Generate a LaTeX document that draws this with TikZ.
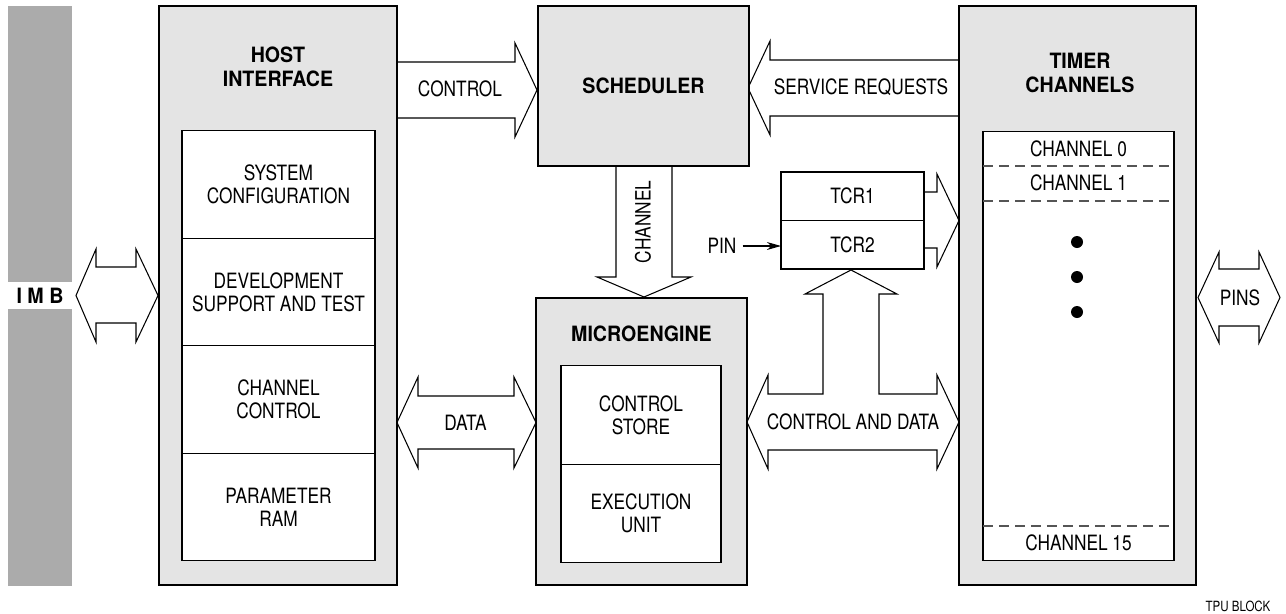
\documentclass[tikz,border=0pt]{standalone}
\usepackage{fontspec}
\setmainfont{TeX Gyre Heros}[FakeStretch=0.82]
\newfontfamily\headfont{TeX Gyre Heros}[FakeStretch=0.93]
\usetikzlibrary{positioning,arrows.meta,calc}

\definecolor{boxgrey}{HTML}{E4E4E4}
\definecolor{imbgrey}{HTML}{ABABAB}
\definecolor{dashgrey}{HTML}{555555}

\tikzset{
  bigbox/.style={draw,line width=1.1pt,fill=boxgrey,outer sep=0pt},
  subbox/.style={draw,line width=0.6pt,fill=white,align=center,inner sep=0pt,outer sep=0pt},
  blockarrow/.style={draw,line width=0.6pt,fill=white,line join=miter},
  head/.style={font=\headfont\bfseries\fontsize{12}{14}\selectfont,align=center},
  chandash/.style={line width=0.6pt,draw=dashgrey,dash pattern=on 5.7pt off 3.4pt}
}

\begin{document}
\begin{tikzpicture}[x=0.02cm,y=-0.02cm,font=\fontsize{12}{13}\selectfont]
\useasboundingbox (0,0) rectangle (1286,613);

% IMB bus
\fill[imbgrey] (8,6) rectangle (72,282);
\fill[imbgrey] (8,309) rectangle (72,586);

% block arrows
\draw[blockarrow] (76,295.5) -- (96,249) -- (96,267) -- (136,267) -- (136,249) -- (158,295.5)
  -- (136,342) -- (136,323) -- (96,323) -- (96,342) -- cycle;
\draw[blockarrow] (397,62) -- (515,62) -- (515,43) -- (537,90) -- (515,137) -- (515,118) -- (397,118);
\draw[blockarrow] (959,60) -- (770,60) -- (770,41) -- (748,88) -- (770,135) -- (770,116) -- (959,116);
\draw[blockarrow] (616,166) -- (616,277) -- (597,277) -- (644,297) -- (691,277) -- (672,277) -- (672,166);
\draw[blockarrow] (397,422.5) -- (418,377) -- (418,396) -- (514,396) -- (514,377) -- (536,422.5)
  -- (514,468) -- (514,449) -- (418,449) -- (418,468) -- cycle;
\draw[blockarrow] (747,422) -- (768,375) -- (768,394) -- (823,394) -- (823,294) -- (805,294)
  -- (851,270) -- (897,294) -- (879,294) -- (879,394) -- (937,394) -- (937,375) -- (959,422)
  -- (937,469) -- (937,450) -- (768,450) -- (768,469) -- cycle;
\draw[blockarrow] (924,192) -- (937,192) -- (937,174) -- (959,220.5) -- (937,267) -- (937,248) -- (924,248);
\draw[blockarrow] (1198,297.5) -- (1219,252) -- (1219,269) -- (1259,269) -- (1259,252) -- (1280,297.5)
  -- (1259,343) -- (1259,326) -- (1219,326) -- (1219,343) -- cycle;

% host interface
\node[bigbox,minimum width=4.76cm,minimum height=11.58cm] (host) at (278,295.5) {};
\node[head] (hosttitle) at (278,67) {HOST\\INTERFACE};
\node[subbox,minimum width=3.86cm,minimum height=2.15cm] (syscfg) at (278.5,184.5) {SYSTEM\\CONFIGURATION};
\node[subbox,minimum width=3.86cm,minimum height=2.15cm,below=0pt of syscfg] (devsup) {DEVELOPMENT\\SUPPORT AND TEST};
\node[subbox,minimum width=3.86cm,minimum height=2.15cm,below=0pt of devsup] (chctl) {CHANNEL\\CONTROL};
\node[subbox,minimum width=3.86cm,minimum height=2.15cm,below=0pt of chctl] (pram) {PARAMETER\\RAM};

% scheduler
\node[bigbox,head,minimum width=4.22cm,minimum height=3.2cm] (sched) at (643.5,86) {SCHEDULER};

% microengine
\node[bigbox,minimum width=4.22cm,minimum height=5.74cm] (micro) at (641.5,441.5) {};
\node[head] (microtitle) at (641.5,334) {MICROENGINE};
\node[subbox,minimum width=3.2cm,minimum height=1.97cm] (cstore) at (641,415) {CONTROL\\STORE};
\node[subbox,minimum width=3.2cm,minimum height=1.97cm,below=0pt of cstore] (exec) {EXECUTION\\UNIT};

% timer channels
\node[bigbox,minimum width=4.74cm,minimum height=11.58cm] (timer) at (1077.5,295.5) {};
\node[head] (timertitle) at (1080,73) {TIMER\\CHANNELS};
\node[subbox,minimum width=3.82cm,minimum height=8.6cm] (chans) at (1078.5,346) {};
\draw[chandash] (chans.west |- 0,166) -- (chans.east |- 0,166);
\draw[chandash] (chans.west |- 0,201) -- (chans.east |- 0,201);
\draw[chandash] (chans.west |- 0,526) -- (chans.east |- 0,526);
\node (ch0) at (1078.5,149) {CHANNEL 0};
\node (ch1) at (1078.5,183) {CHANNEL 1};
\node (ch15) at (1078.5,543) {CHANNEL 15};
\foreach \y in {242,277,312}
  \fill (1077,\y) circle (0.12cm);

% time bases
\node[subbox,minimum width=2.86cm,minimum height=0.97cm] (tcr1) at (852.5,196) {TCR1};
\node[subbox,minimum width=2.86cm,minimum height=0.97cm,below=0pt of tcr1] (tcr2) {TCR2};
\draw[line width=1.1pt] (tcr1.north west) rectangle (tcr2.south east);

% labels
\node (ctrl) at (460,89) {CONTROL};
\node (srvreq) at (861,87) {SERVICE REQUESTS};
\node[rotate=90] (chan) at (643,222) {CHANNEL};
\node (data) at (465.5,422.5) {DATA};
\node (ctldata) at (853,422) {CONTROL AND DATA};
\node (pins) at (1240,297.5) {PINS};
\node (pin) at (722,246) {PIN};
\draw[line width=0.6pt,-{Stealth[length=8pt,width=4.5pt,inset=2.5pt]}] (pin.east) -- (pin -| tcr2.west);
\node[font=\headfont\bfseries\fontsize{12}{14}\selectfont] (imb) at (40,296) {I M B};
\node[font=\fontsize{8}{9}\selectfont] (tpu) at (1238,606) {TPU BLOCK};

\end{tikzpicture}
\end{document}
